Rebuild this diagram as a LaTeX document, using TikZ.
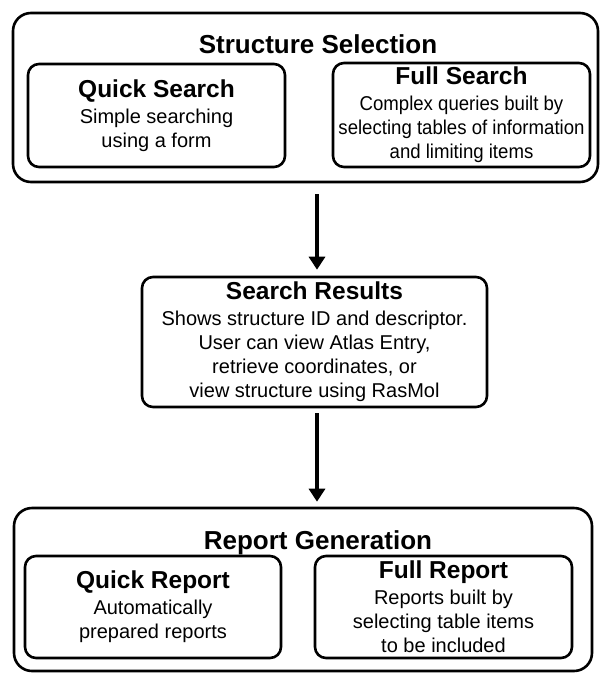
\documentclass[tikz,border=0pt]{standalone}
\usepackage{fontspec}
\setmainfont{Liberation Sans}
\newfontfamily\narrowfont{Liberation Sans}[FakeStretch=0.93]
\usetikzlibrary{arrows.meta}

\tikzset{
  outerbox/.style={draw, line width=2.6pt, rounded corners=18pt, inner sep=0pt},
  innerbox/.style={draw, line width=2.6pt, rounded corners=11pt, inner sep=0pt,
    align=center, font=\fontsize{20}{24}\selectfont},
  boxtitle/.style={anchor=base, inner sep=0pt, font=\bfseries\fontsize{26}{30}\selectfont},
  flow/.style={line width=4pt, -{Triangle[width=16pt,length=13pt]}}
}
\newcommand{\hd}[1]{{\bfseries\fontsize{24.5}{26}\selectfont #1}\\[2pt]}

\begin{document}
\begin{tikzpicture}[x=1pt, y=-1pt]
 \useasboundingbox (0,0) rectangle (600,673);

 %level 1
 \node[outerbox, minimum width=585pt, minimum height=169pt] (sel) at (305.5,97.5) {};
 \node[boxtitle] (seltitle) at (318,53) {Structure Selection};

 \node[innerbox, minimum width=257pt, minimum height=103pt] (qsearch) at (156.5,115.5)
   {\hd{Quick Search}Simple searching\\using a form};
 \node[innerbox, minimum width=257pt, minimum height=104pt] (fsearch) at (461.5,115)
   {\hd{Full Search}\narrowfont Complex queries built by\\\narrowfont selecting tables of information\\\narrowfont and limiting items};

 %level 2
 \node[innerbox, minimum width=345pt, minimum height=130pt] (results) at (314.5,342)
   {\hd{Search Results}Shows structure ID and descriptor.\\User can view Atlas Entry,\\retrieve coordinates, or\\view structure using RasMol};

 %level 3
 \node[outerbox, minimum width=578pt, minimum height=163pt] (report) at (303,589.5) {};
 \node[boxtitle] (reptitle) at (318,549) {Report Generation};

 \node[innerbox, minimum width=256pt, minimum height=102pt] (qreport) at (153,607)
   {\hd{Quick Report}Automatically\\prepared reports};
 \node[innerbox, minimum width=257pt, minimum height=102pt] (freport) at (443.5,607)
   {\hd{Full Report}Reports built by\\selecting table items\\to be included};

 %arrows
 \draw[flow, shorten <=11pt, shorten >=6pt] ([xshift=2.5pt]results.north |- sel.south) -- ([xshift=2.5pt]results.north);
 \draw[flow, shorten <=5pt, shorten >=5pt] ([xshift=2.5pt]results.south) -- ([xshift=2.5pt]results.south |- report.north);

\end{tikzpicture}
\end{document}
